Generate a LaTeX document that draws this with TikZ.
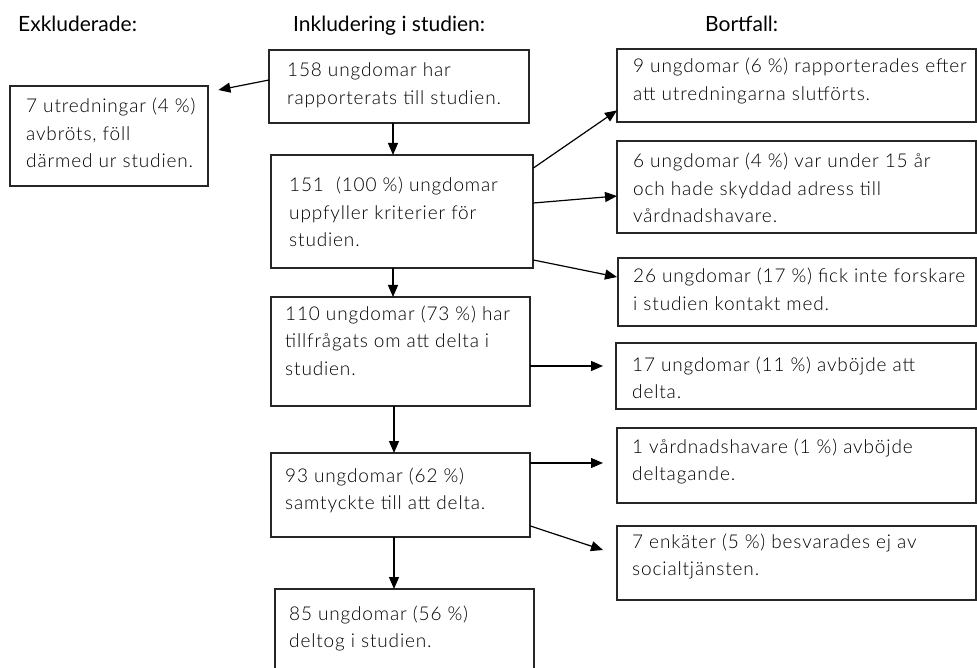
\documentclass[tikz,border=0pt]{standalone}
\usepackage{fontspec}
\setmainfont{Lato}[UprightFont={* Light}, LetterSpace=4.5]
\newfontfamily\headfont{Lato}
\usetikzlibrary{arrows.meta,calc}
\tikzset{
  txt/.style={anchor=base west, inner sep=0pt, font=\fontsize{19}{27.5}\selectfont},
  head/.style={anchor=base west, inner sep=0pt, font=\headfont\fontsize{21}{24}\selectfont},
  arr/.style={line width=1.2pt, -{Triangle[length=12pt,width=10pt]}}
}
\newcommand{\mybox}[5]{% name, x1,y1,x2,y2
  \path[draw=black!85, line width=1.1pt] (#2,#3) rectangle (#4,#5);
  \node[inner sep=0pt, minimum width=#4pt-#2pt, minimum height=#5pt-#3pt, anchor=north west] (#1) at (#2,#3) {};}
\newcommand{\mytxt}[4]{\node[txt] (#1) at (#2,#3) {\parbox[t]{12cm}{\raggedright #4}};}
\begin{document}
\begin{tikzpicture}[x=1pt,y=-1pt]
\useasboundingbox (0,0) rectangle (977,668);
\node[head] (h1) at (18,32) {Exkluderade:};
\node[head] (h2) at (293,32) {Inkludering i studien:};
\node[head] (h3) at (705,32) {Bortfall:};

\mybox{A}{269}{50}{529}{123}
\mybox{X}{10}{86}{208}{186}
\mybox{B}{271}{155}{533}{268}
\mybox{C}{271}{297}{530}{406}
\mybox{D}{271}{453}{530}{537}
\mybox{E}{275}{589}{534}{672}
\mybox{R1}{617}{49}{976}{122}
\mybox{R2}{617}{141}{976}{233}
\mybox{R3}{618}{258}{976}{326}
\mybox{R4}{616}{343}{976}{409}
\mybox{R5}{617}{428}{976}{503}
\mybox{R6}{617}{526}{976}{600}

\mytxt{tX}{26}{113}{7 utredningar (4 \%)\\avbröts, föll\\därmed ur studien.}
\mytxt{tA}{287}{77}{158 ungdomar har\\rapporterats till studien.}
\mytxt{tB}{289}{192}{151 \ (100 \%) ungdomar\\uppfyller kriterier för\\studien.}
\mytxt{tC}{285}{320}{110 ungdomar (73 \%) har\\tillfrågats om att delta i\\studien.}
\mytxt{tD}{285}{482}{93 ungdomar (62 \%)\\samtyckte till att delta.}
\mytxt{tE}{289}{620}{85 ungdomar (56 \%)\\deltog i studien.}
\mytxt{t1}{633}{73}{9 ungdomar (6 \%) rapporterades efter\\att utredningarna slutförts.}
\mytxt{t2}{633}{168}{6 ungdomar (4 \%) var under 15 år\\och hade skyddad adress till\\vårdnadshavare.}
\mytxt{t3}{633}{283}{26 ungdomar (17 \%) fick inte forskare\\i studien kontakt med.}
\mytxt{t4}{632}{371}{17 ungdomar (11 \%) avböjde att\\delta.}
\mytxt{t5}{632}{453}{1 vårdnadshavare (1 \%) avböjde\\deltagande.}
\mytxt{t6}{632}{548}{7 enkäter (5 \%) besvarades ej av\\socialtjänsten.}

\draw[arr] ($(A.north west)+(0,30)$) -- ($(X.north east)+(10,4)$);
\draw[arr] ($(A.south west)+(124,0)$) -- ($(B.north west)+(122,0)$);
\draw[arr] ($(B.south west)+(122,0)$) -- ($(C.north west)+(122,0)$);
\draw[arr] ($(C.south west)+(123,0)$) -- ($(D.north west)+(123,0)$);
\draw[arr] ($(D.south west)+(123,0)$) -- ($(E.north west)+(119,0)$);
\draw[arr] ($(B.north east)+(0,13)$) -- ($(R1.south west)+(0,-12)$);
\draw[arr] ($(B.north east)+(0,48)$) -- ($(R2.north west)+(0,55)$);
\draw[arr] ($(B.north east)+(0,105)$) -- ($(R3.north west)+(-1,19)$);
\draw[arr] ($(C.north east)+(0,69)$) -- ($(R4.north west)+(-13,23)$);
\draw[arr] ($(D.north east)+(0,10)$) -- ($(R5.north west)+(-14,35)$);
\draw[arr] ($(D.north east)+(0,73)$) -- ($(R6.north west)+(-14,24)$);
\end{tikzpicture}
\end{document}
